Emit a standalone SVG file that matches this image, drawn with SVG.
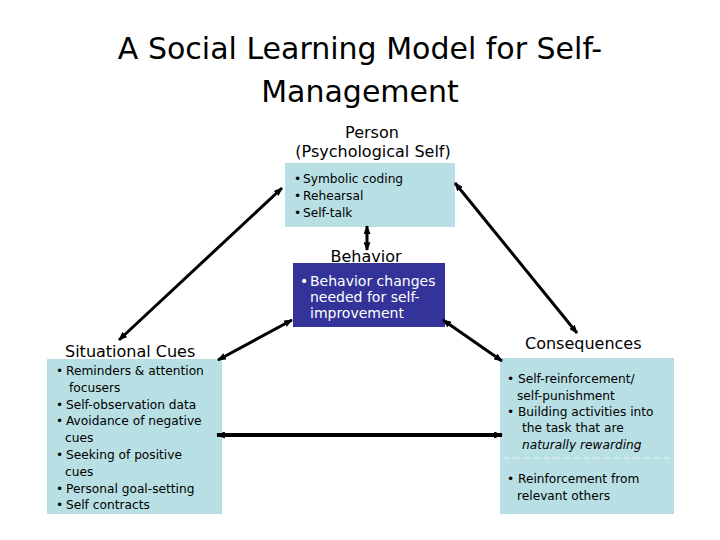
<svg xmlns="http://www.w3.org/2000/svg" width="720" height="540" viewBox="0 0 720 540">
<style>
text{font-family:"DejaVu Sans","Verdana",sans-serif;fill:#000}
.title{font-size:30px}
.lbl{font-size:16px}
.sm{font-size:12.2px}
.wt{font-size:14px;fill:#fff}
.lb{fill:#b8dfe3}
.db{fill:#333399}
.con line{stroke:#000;stroke-width:3;marker-start:url(#ah);marker-end:url(#ah)}
</style>
<defs>
<marker id="ah" viewBox="0 0 10 8" refX="9" refY="4" markerWidth="9" markerHeight="7" markerUnits="userSpaceOnUse" orient="auto-start-reverse">
<path d="M0,0 L10,4 L0,8 Z" fill="#000"/>
</marker>
</defs>
<rect width="720" height="540" fill="#fff"/>
<g id="title">
<text class="title" x="360" y="59" text-anchor="middle">A Social Learning Model for Self-</text>
<text class="title" x="360" y="102" text-anchor="middle">Management</text>
</g>
<g id="person">
<text class="lbl" x="372" y="138" text-anchor="middle">Person</text>
<text class="lbl" x="373" y="157" text-anchor="middle">(Psychological Self)</text>
<rect class="lb" x="285" y="163" width="170" height="64"/>
<text class="sm" x="294" y="183">•</text><text class="sm" x="303" y="183">Symbolic coding</text>
<text class="sm" x="294" y="200">•</text><text class="sm" x="303" y="200">Rehearsal</text>
<text class="sm" x="294" y="217">•</text><text class="sm" x="303" y="217">Self-talk</text>
</g>
<g id="behavior">
<text class="lbl" x="366" y="262" text-anchor="middle">Behavior</text>
<rect class="db" x="293" y="263" width="152" height="64"/>
<text class="wt" x="300" y="286">•</text><text class="wt" x="310" y="286">Behavior changes</text>
<text class="wt" x="310" y="302">needed for self-</text>
<text class="wt" x="310" y="318">improvement</text>
</g>
<g id="situational">
<text class="lbl" x="65" y="357">Situational Cues</text>
<rect class="lb" x="47" y="359" width="175" height="155"/>
<text class="sm" x="56" y="375">•</text><text class="sm" x="66" y="375">Reminders &amp; attention</text>
<text class="sm" x="69" y="392">focusers</text>
<text class="sm" x="56" y="409">•</text><text class="sm" x="66" y="409">Self-observation data</text>
<text class="sm" x="56" y="425">•</text><text class="sm" x="66" y="425">Avoidance of negative</text>
<text class="sm" x="65" y="442">cues</text>
<text class="sm" x="56" y="459">•</text><text class="sm" x="66" y="459">Seeking of positive</text>
<text class="sm" x="65" y="476">cues</text>
<text class="sm" x="56" y="493">•</text><text class="sm" x="66" y="493">Personal goal-setting</text>
<text class="sm" x="56" y="509">•</text><text class="sm" x="66" y="509">Self contracts</text>
</g>
<g id="consequences">
<text class="lbl" x="525" y="349">Consequences</text>
<rect class="lb" x="500" y="358" width="174" height="156"/>
<text class="sm" x="507" y="383">•</text><text class="sm" x="518" y="383">Self-reinforcement/</text>
<text class="sm" x="517" y="400">self-punishment</text>
<text class="sm" x="507" y="416">•</text><text class="sm" x="518" y="416">Building activities into</text>
<text class="sm" x="522" y="432">the task that are</text>
<text class="sm" x="522" y="449" font-style="italic">naturally rewarding</text>
<line x1="503" y1="458" x2="670" y2="458" stroke="#e6f3f4" stroke-width="1" stroke-dasharray="7,3"/>
<text class="sm" x="507" y="483">•</text><text class="sm" x="518" y="483">Reinforcement from</text>
<text class="sm" x="517" y="500">relevant others</text>
</g>
<g id="connectors" class="con">
<line x1="282" y1="188" x2="119" y2="340"/>
<line x1="292" y1="320" x2="218" y2="360"/>
<line x1="455" y1="183" x2="577" y2="333"/>
<line x1="443" y1="320" x2="502" y2="361"/>
<line x1="367" y1="226" x2="367" y2="250"/>
<line x1="217" y1="435" x2="502" y2="435" style="stroke-width:4"/>
</g>
</svg>
